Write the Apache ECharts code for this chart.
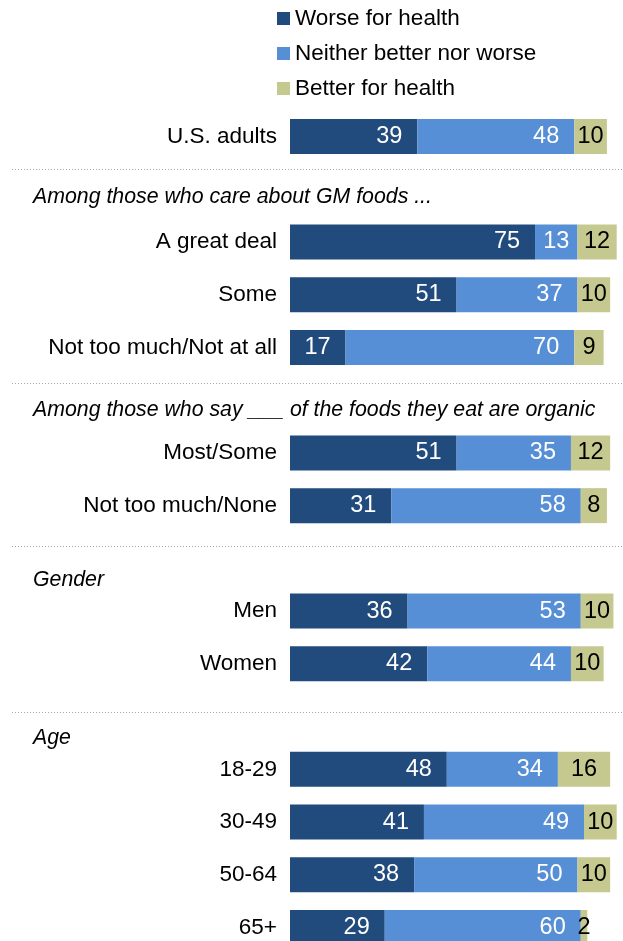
<!DOCTYPE html>
<html>
<head>
<meta charset="utf-8">
<script src="https://cdn.jsdelivr.net/npm/echarts@6/dist/echarts.min.js"></script>
<style>
html,body{margin:0;padding:0;background:#fff;}
#chart{width:623px;height:941px;}
</style>
</head>
<body>
<div id="chart"></div>
<script>
// ---- data ----
var seriesNames = ['Worse for health', 'Neither better nor worse', 'Better for health'];
var categories = ['U.S. adults', 'A great deal', 'Some', 'Not too much/Not at all',
  'Most/Some', 'Not too much/None', 'Men', 'Women', '18-29', '30-49', '50-64', '65+'];
var worse   = [39, 75, 51, 17, 51, 31, 36, 42, 48, 41, 38, 29];
var neither = [48, 13, 37, 70, 35, 58, 53, 44, 34, 49, 50, 60];
var better  = [10, 12, 10,  9, 12,  8, 10, 10, 16, 10, 10,  2];
var sectionHeaders = ['Among those who care about GM foods ...',
  'Among those who say ___ of the foods they eat are organic', 'Gender', 'Age'];
var sectionRows = [1, 3, 2, 2, 4]; // rows per section (first has no header)

// ---- layout ----
var FONT = '"Liberation Sans", Arial, sans-serif';
var colors = ['#214a7d', '#568fd5', '#c5c98f'];
var headerY = [199, 412, 582, 740];
var sepY = [169, 383, 546, 712];

// build slots with a blank slot for each section header
var slotCats = [], slotIdx = [], r = 0;
sectionRows.forEach(function (n, s) {
  if (s > 0) { slotCats.push('__h' + s); slotIdx.push(-1); }
  for (var k = 0; k < n; k++) { slotCats.push(categories[r]); slotIdx.push(r); r++; }
});

function buildData(arr, kind) {
  return slotIdx.map(function (i) {
    if (i < 0) return '-';
    var v = arr[i];
    var item = { value: v };
    if (kind !== 2 && v < 15) {
      item.label = { position: 'inside', distance: 0 };
    }
    return item;
  });
}

var chart = echarts.init(document.getElementById('chart'), null, { renderer: 'canvas' });

var labelBase = { show: true, fontFamily: FONT, fontSize: 23.5 };

var series = [worse, neither, better].map(function (arr, k) {
  return {
    name: seriesNames[k],
    type: 'bar',
    stack: 'total',
    barWidth: 35,
    itemStyle: { color: colors[k] },
    label: k === 2
      ? Object.assign({}, labelBase, { position: 'inside', color: '#000' })
      : Object.assign({}, labelBase, { position: 'insideRight', distance: 15, color: '#fff' }),
    emphasis: { disabled: true },
    data: buildData(arr, k)
  };
});

var graphics = [];
sectionHeaders.forEach(function (h, i) {
  graphics.push({
    type: 'text', left: 33, top: headerY[i] - 12,
    style: { text: h, fill: '#000', font: 'italic 21.3px ' + FONT }
  });
});
sepY.forEach(function (y) {
  graphics.push({
    type: 'line', shape: { x1: 12, y1: y + 0.5, x2: 623, y2: y + 0.5 },
    style: { stroke: '#a6a6a6', lineWidth: 1, lineDash: [1, 2] }
  });
});

chart.setOption({
  animation: false,
  backgroundColor: '#fff',
  textStyle: { fontFamily: FONT },
  legend: {
    orient: 'vertical', left: 272, top: 2,
    itemWidth: 13, itemHeight: 13, itemGap: 12,
    icon: 'rect',
    textStyle: { fontSize: 22.5, color: '#000', fontFamily: FONT, lineHeight: 22 },
    data: seriesNames
  },
  grid: { left: 290, top: 136.5, width: 326.7, height: 791, containLabel: false },
  xAxis: {
    type: 'value', min: 0, max: 100, show: false
  },
  yAxis: {
    type: 'category', inverse: true, data: slotCats, boundaryGap: false,
    axisLine: { show: false }, axisTick: { show: false }, splitLine: { show: false },
    axisLabel: {
      margin: 13, fontSize: 22.5, color: '#000', fontFamily: FONT,
      formatter: function (v) { return v.indexOf('__h') === 0 ? '' : v; }
    }
  },
  series: series,
  graphic: graphics
});
</script>
</body>
</html>
